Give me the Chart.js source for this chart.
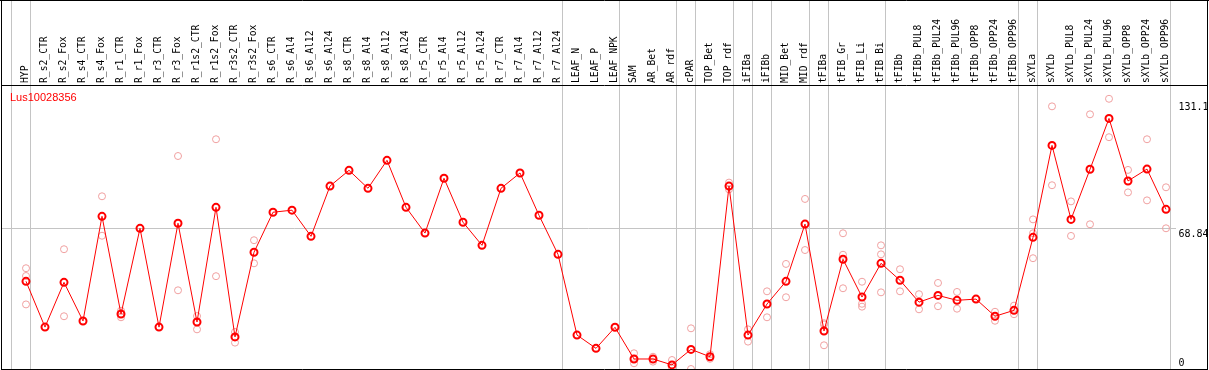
<!DOCTYPE html>
<html><head><meta charset="utf-8">
<script src="https://cdn.jsdelivr.net/npm/chart.js@4.4.1/dist/chart.umd.min.js"></script>
<style>html,body{margin:0;padding:0;background:#fff;overflow:hidden}canvas{display:block}</style>
</head><body>
<canvas id="c" width="1209" height="370"></canvas>
<script>
const geneName = 'Lus10028356';
const categories = ['HYP','R_s2_CTR','R_s2_Fox','R_s4_CTR','R_s4_Fox','R_r1_CTR','R_r1_Fox','R_r3_CTR','R_r3_Fox','R_r1s2_CTR','R_r1s2_Fox','R_r3s2_CTR','R_r3s2_Fox','R_s6_CTR','R_s6_Al4','R_s6_Al12','R_s6_Al24','R_s8_CTR','R_s8_Al4','R_s8_Al12','R_s8_Al24','R_r5_CTR','R_r5_Al4','R_r5_Al12','R_r5_Al24','R_r7_CTR','R_r7_Al4','R_r7_Al12','R_r7_Al24','LEAF_N','LEAF_P','LEAF_NPK','SAM','AR_Bet','AR_rdf','cPAR','TOP_Bet','TOP_rdf','iFIBa','iFIBb','MID_Bet','MID_rdf','tFIBa','tFIB_Gr','tFIB_Li','tFIB_Bi','tFIBb','tFIBb_PUL8','tFIBb_PUL24','tFIBb_PUL96','tFIBb_OPP8','tFIBb_OPP24','tFIBb_OPP96','sXYLa','sXYLb','sXYLb_PUL8','sXYLb_PUL24','sXYLb_PUL96','sXYLb_OPP8','sXYLb_OPP24','sXYLb_OPP96'];
const means = [42.9,20.5,42.4,23.5,74.7,26.9,68.8,20.5,71.3,23.0,79.1,15.7,57.1,76.7,77.7,64.9,89.5,97.2,88.4,102.1,79.1,66.5,93.3,71.8,60.5,88.4,95.9,75.2,56.1,16.6,10.1,20.4,4.9,4.9,2.0,9.6,6.0,89.5,16.6,31.8,42.9,70.9,18.6,53.7,35.2,51.7,43.4,32.7,36.0,33.6,34.2,25.8,28.7,64.4,109.4,73.2,97.7,122.6,92.0,97.8,78.1];
const replicates = [[49.3,45.5,31.6],[],[58.6,25.8],[],[84.5,65.2],[28.5,25.3],[],[],[104.2,38.5],[25.9,19.4],[112.4,45.4],[18.1,12.9],[63.0,51.7],[],[],[],[],[],[],[],[],[],[],[],[],[],[],[],[],[],[],[],[7.7,2.8,5.0],[6.0,3.6],[4.4,0.3],[19.9,0.0],[7.2,5.0],[91.2,87.9],[19.4,13.4],[38.0,25.3],[51.4,35.1],[83.2,58.2],[22.4,21.8,11.6],[66.4,55.9,39.5],[42.7,31.9,30.5],[60.5,56.1,37.5],[48.8,38.0],[36.6,29.2],[42.1,30.7],[37.7,29.5],[],[28.0,23.6],[31.0,26.8],[73.2,66.4,54.2],[128.5,89.9],[82.0,65.1],[124.6,70.8],[132.2,113.4],[97.4,86.4],[112.4,82.5],[88.9,68.84]];
const yTicks = [0, 68.84, 131.1];
const yTickLabels = ['0', '68.84', '131.1'];
const groupEnds = [-1, 0, 28, 31, 34, 35, 37, 38, 39, 41, 42, 45, 52, 53, 60];

const mainData = means.map((v, i) => ({x: i, y: v}));
const repData = [];
replicates.forEach((arr, i) => arr.forEach(v => repData.push({x: i, y: v})));

Chart.defaults.font.family = '"DejaVu Sans Mono", monospace';
Chart.defaults.font.size = 10;
Chart.defaults.color = '#000';

const framePlugin = {
  id: 'frame',
  beforeDatasetsDraw(chart) {
    const ctx = chart.ctx, xs = chart.scales.x, a = chart.chartArea;
    ctx.save();
    ctx.strokeStyle = '#c4c4c4';
    ctx.lineWidth = 1;
    groupEnds.forEach(i => {
      const px = Math.round(xs.getPixelForValue(i) + 4) + 0.5;
      ctx.beginPath(); ctx.moveTo(px, 0); ctx.lineTo(px, a.bottom); ctx.stroke();
    });
    ctx.restore();
  },
  afterDraw(chart) {
    const ctx = chart.ctx, a = chart.chartArea;
    const W = chart.width, H = chart.height;
    ctx.save();
    ctx.strokeStyle = '#000';
    ctx.lineWidth = 1;
    ctx.beginPath();
    ctx.moveTo(0, 0.5); ctx.lineTo(W, 0.5);
    ctx.moveTo(1, a.top + 0.5); ctx.lineTo(W - 1, a.top + 0.5);
    ctx.moveTo(1, H - 0.5); ctx.lineTo(W - 1, H - 0.5);
    ctx.moveTo(1.5, 0); ctx.lineTo(1.5, H);
    ctx.moveTo(W - 1.5, 0); ctx.lineTo(W - 1.5, H);
    ctx.stroke();
    ctx.fillStyle = '#ff0000';
    ctx.font = '11px "Liberation Sans", Arial, sans-serif';
    ctx.textBaseline = 'alphabetic';
    ctx.fillText(geneName, 10, 101);
    ctx.restore();
  }
};

new Chart(document.getElementById('c'), {
  type: 'line',
  data: {
    datasets: [
      {
        label: 'mean', data: mainData, showLine: true,
        borderColor: '#ff0000', borderWidth: 1,
        pointRadius: 3.5, pointBorderWidth: 2, pointBorderColor: '#ff0000',
        pointBackgroundColor: 'rgba(0,0,0,0)', tension: 0, clip: false
      },
      {
        label: 'replicates', data: repData, showLine: false,
        pointRadius: 3.5, pointBorderWidth: 1, pointBorderColor: '#f0a0a0',
        pointBackgroundColor: 'rgba(0,0,0,0)', clip: false
      }
    ]
  },
  options: {
    responsive: false,
    animation: false,
    layout: {autoPadding: false, padding: {left: 1, right: 0, top: 0, bottom: 1}},
    plugins: {legend: {display: false}, tooltip: {enabled: false}, title: {display: false}},
    scales: {
      x: {
        type: 'linear', position: 'top',
        min: -25 / 19, max: -25 / 19 + 1174.5 / 19,
        grid: {display: false, drawTicks: false},
        border: {display: false},
        afterFit: s => { s.height = 85; s.paddingLeft = 0; s.paddingRight = 0; },
        afterBuildTicks: s => { s.ticks = categories.map((c, i) => ({value: i})); },
        ticks: {
          autoSkip: false, minRotation: 90, maxRotation: 90, padding: 2, labelOffset: 11.5,
          font: {size: 9.7},
          callback: v => categories[v] !== undefined ? categories[v] : ''
        }
      },
      y: {
        type: 'linear', position: 'right', min: 0, max: 284 / 2.044,
        border: {display: false},
        grid: {drawTicks: false, color: c => (c.tick && c.tick.value === 68.84) ? '#c4c4c4' : 'rgba(0,0,0,0)'},
        afterFit: s => { s.width = 33.5; s.paddingTop = 0; s.paddingBottom = 0; },
        afterBuildTicks: s => { s.ticks = yTicks.map(v => ({value: v})); },
        ticks: {
          padding: 3,
          callback: (v, idx) => v === 0 ? [yTickLabels[idx], ''] : ['', yTickLabels[idx]]
        }
      }
    }
  },
  plugins: [framePlugin]
});
</script>
</body></html>
